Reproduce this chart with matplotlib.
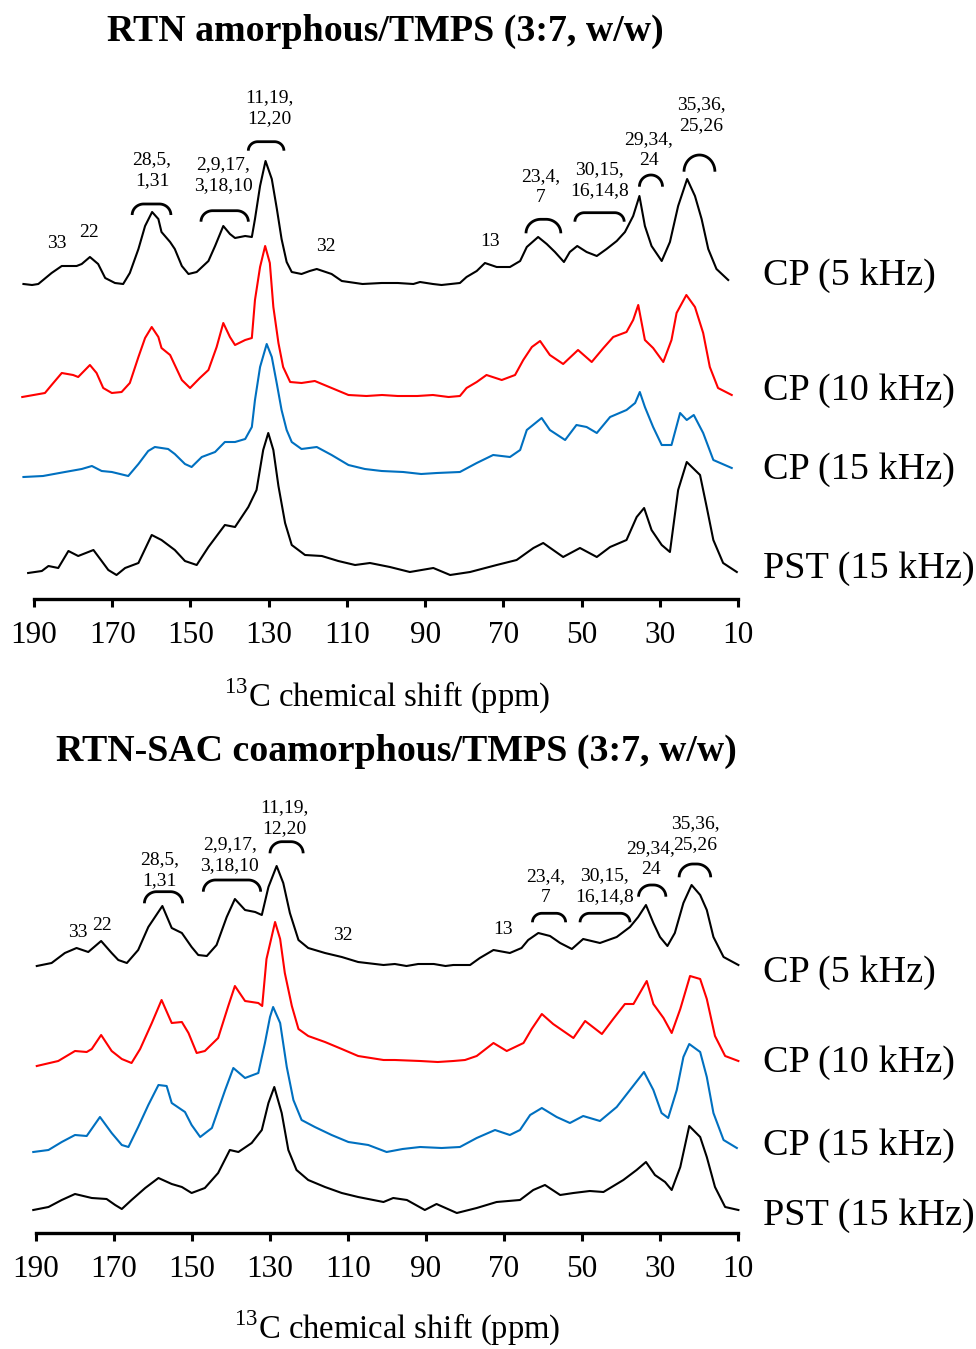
import matplotlib
matplotlib.use("Agg")
import matplotlib.pyplot as plt
import numpy as np

plt.rcParams['font.family'] = ['Liberation Serif', 'DejaVu Serif']
plt.rcParams['mathtext.fontset'] = 'custom'
plt.rcParams['mathtext.rm'] = 'Liberation Serif'

# ---------------- data ----------------
# intensities are heights above each trace's own baseline (arbitrary units)
ticks = [190, 170, 150, 130, 110, 90, 70, 50, 30, 10]
trace_labels = ["CP (5 kHz)", "CP (10 kHz)", "CP (15 kHz)", "PST (15 kHz)"]
titles = ["RTN amorphous/TMPS (3:7, w/w)", "RTN-SAC coamorphous/TMPS (3:7, w/w)"]

# ----- panel A : RTN amorphous -----
a_cp5_ppm = [192.7, 190.5, 188.9, 185.5, 182.9, 179.1, 177.8, 175.7, 173.6, 171.8, 169.3, 167.2, 165.5, 163.3, 161.6,
             159.8, 158.2, 157.4, 155.2, 154.0, 152.2, 150.5, 148.4, 145.4, 143.7, 141.6, 139.9, 138.6, 136.0,
             134.3, 133.5, 132.2, 130.8, 129.2, 127.9, 126.7, 125.4, 124.1, 121.6, 119.5, 117.7, 113.9, 111.3,
             106.0, 101.1, 97.0, 93.0, 91.3, 88.0, 85.8, 81.1, 79.4, 76.8, 74.7, 71.7, 68.3, 65.7, 64.0, 61.1,
             58.9, 56.8, 54.5, 53.0, 51.1, 48.7, 46.1, 43.6, 41.0, 38.9, 36.8, 35.2, 33.8, 32.1, 29.5, 27.4,
             25.3, 23.0, 21.0, 19.3, 17.6, 15.5, 12.5]
a_cp5_int = [0, -1, 0, 11, 18, 18, 20, 27, 20, 6, 1, 0, 11, 35, 58,
             72, 65, 52, 42, 35, 18, 10, 12, 23, 38, 58, 50, 46, 48,
             47, 65, 98, 123, 105, 75, 45, 22, 12, 10, 13, 15, 10, 3,
             0, 1, 1, 0, 2, 0, -1, 1, 7, 13, 21, 17, 17, 23, 37, 47,
             40, 32, 22, 32, 38, 32, 28, 35, 43, 52, 68, 88, 58, 38, 23, 42,
             78, 105, 88, 65, 35, 15, 4]

a_cp10_ppm = [193.0, 187.2, 185.5, 182.9, 180.0, 178.7, 175.7, 174.0, 172.3, 170.1, 167.6, 165.5, 163.3, 161.6,
              159.9, 158.2, 157.4, 155.2, 154.0, 152.2, 150.1, 147.6, 145.4, 143.3, 141.6, 139.9, 138.6, 136.0,
              134.3, 133.5, 132.2, 130.9, 129.7, 128.8, 127.5, 126.3, 124.5, 121.6, 118.2, 113.9, 109.6, 105.0,
              101.0, 97.0, 92.0, 88.0, 84.0, 81.1, 79.4, 76.8, 74.3, 70.4, 67.0, 64.9, 62.7, 60.6, 58.1, 54.7,
              50.9, 47.4, 44.4, 41.9, 38.5, 36.8, 35.5, 33.8, 31.7, 29.1, 27.0, 25.7, 23.2, 21.0, 18.9, 17.2,
              15.1, 11.6]
a_cp10_int = [0, 4, 12, 24, 22, 20, 32, 24, 9, 4, 5, 14, 40, 59,
              70, 60, 49, 42, 32, 17, 9, 19, 27, 50, 74, 60, 52, 57,
              59, 97, 130, 151, 134, 90, 54, 30, 15, 14, 16, 9, 2, 1,
              2, 1, 1, 2, 0, 1, 9, 15, 22, 17, 22, 37, 50, 56, 42, 33,
              47, 35, 49, 60, 65, 77, 92, 57, 49, 35, 57, 84, 102, 90, 64, 30,
              9, 2]

a_cp15_ppm = [192.7, 187.7, 182.1, 177.8, 175.2, 172.7, 170.1, 165.9, 163.3, 160.8, 159.1, 155.7, 154.0, 151.4,
              149.7, 147.1, 143.7, 141.2, 138.6, 136.0, 134.3, 133.5, 132.2, 130.5, 129.2, 127.9, 126.7, 125.4,
              124.1, 121.6, 117.7, 113.9, 109.6, 105.4, 101.1, 95.6, 91.0, 87.0, 81.1, 76.8, 72.6, 68.3, 65.7,
              64.0, 60.2, 58.1, 54.2, 51.3, 48.7, 46.1, 42.7, 38.5, 36.3, 35.1, 33.8, 31.7, 29.5, 27.0, 24.8,
              23.1, 21.3, 18.9, 16.3, 11.6]
a_cp15_int = [0, 1, 5, 8, 11, 6, 5, 1, 13, 26, 30, 28, 23, 13,
              10, 20, 25, 35, 35, 38, 50, 77, 110, 133, 120, 93, 67, 47,
              35, 28, 30, 22, 12, 8, 6, 5, 3, 4, 5, 14, 22, 20, 27,
              47, 59, 47, 37, 52, 50, 44, 60, 67, 74, 85, 70, 50, 32, 32, 64,
              57, 62, 44, 17, 9]

a_pst_ppm = [191.5, 188.0, 186.3, 183.8, 181.2, 178.7, 174.8, 172.7, 171.0, 168.9, 166.7, 163.3, 159.9, 157.4,
             154.0, 151.4, 148.4, 145.4, 141.2, 138.6, 135.2, 133.1, 131.4, 130.1, 128.8, 127.5, 125.8, 124.1,
             120.7, 116.4, 112.2, 107.9, 104.1, 99.0, 93.9, 87.9, 83.6, 78.5, 71.7, 66.6, 62.3, 59.8, 54.7,
             50.4, 46.1, 42.7, 38.5, 35.9, 34.0, 32.1, 29.5, 27.4, 25.3, 23.1, 19.7, 18.0, 16.3, 13.8, 10.3]
a_pst_int = [0, 2, 7, 5, 22, 17, 23, 12, 3, -2, 5, 10, 38, 33,
             23, 12, 8, 26, 48, 46, 66, 83, 123, 140, 123, 87, 50, 28,
             18, 17, 12, 8, 10, 6, 1, 5, -2, 1, 8, 13, 25, 30, 16,
             25, 16, 26, 33, 56, 65, 43, 28, 21, 83, 111, 98, 66, 33, 10, 1]

# ----- panel B : RTN-SAC coamorphous -----
b_cp5_ppm = [189.8, 186.0, 182.6, 179.6, 176.6, 173.3, 170.6, 168.9, 166.7, 163.8, 161.2, 157.6, 155.2, 152.6,
             150.1, 148.4, 146.2, 143.7, 141.1, 139.0, 136.4, 133.8, 132.1, 130.4, 128.3, 126.6, 124.9, 122.7,
             120.2, 115.9, 111.6, 107.4, 100.9, 98.0, 95.0, 92.0, 88.0, 85.0, 83.0, 78.7, 76.2, 72.7, 68.5,
             65.5, 63.8, 61.2, 58.2, 55.6, 52.6, 49.7, 45.4, 41.1, 37.7, 35.6, 33.6, 31.7, 30.0, 28.1, 26.2,
             24.0, 21.9, 19.7, 18.0, 16.3, 13.7, 9.9]
b_cp5_int = [0, 3, 13, 18, 14, 25, 13, 6, 3, 16, 39, 60, 38, 33,
             19, 11, 10, 21, 49, 67, 56, 54, 51, 79, 100, 83, 53, 26,
             18, 13, 9, 4, 1, 2, 0, 2, 2, 0, 1, 1, 8, 16, 13,
             18, 26, 33, 30, 23, 17, 27, 23, 29, 39, 49, 61, 43, 29, 20, 33,
             63, 81, 71, 56, 29, 9, 1]

b_cp10_ppm = [189.8, 184.3, 180.0, 177.0, 175.7, 173.3, 170.6, 168.0, 165.5, 163.3, 160.3, 157.8, 155.2, 152.6,
              150.9, 148.8, 146.7, 143.3, 140.7, 139.0, 136.4, 133.0, 132.0, 130.9, 128.7, 127.4, 126.2, 124.4,
              122.7, 120.2, 115.9, 111.6, 107.4, 100.9, 98.0, 91.5, 87.0, 83.0, 80.0, 77.0, 72.7, 69.3, 65.0,
              62.9, 60.3, 57.4, 52.2, 49.2, 44.9, 42.0, 39.0, 36.8, 33.4, 31.7, 29.1, 27.0, 24.8, 22.3, 19.7,
              18.0, 15.9, 13.3, 9.9]
b_cp10_int = [0, 5, 15, 14, 17, 31, 15, 7, 3, 17, 43, 66, 43, 44,
              33, 13, 15, 28, 60, 80, 65, 63, 60, 107, 144, 127, 93, 60,
              37, 30, 24, 17, 10, 6, 6, 5, 4, 5, 6, 10, 23, 15, 23,
              37, 52, 42, 28, 45, 32, 47, 62, 62, 85, 62, 48, 33, 57, 90, 87,
              67, 30, 10, 5]

b_cp15_ppm = [190.7, 186.8, 183.4, 180.0, 177.0, 173.6, 170.6, 168.0, 166.3, 163.8, 161.2, 158.6, 156.5, 155.2,
              151.8, 150.1, 147.9, 144.9, 141.5, 139.4, 136.4, 133.0, 131.3, 130.0, 129.2, 127.4, 125.7, 124.0,
              121.9, 118.5, 114.2, 109.9, 104.8, 100.1, 96.0, 91.5, 86.0, 81.3, 77.0, 72.3, 68.5, 65.9, 63.3,
              60.3, 56.5, 53.1, 49.7, 45.4, 41.1, 37.7, 34.1, 31.7, 29.6, 27.9, 25.7, 24.0, 22.5, 19.7, 18.0,
              16.3, 13.7, 10.3]
b_cp15_int = [0, 2, 10, 17, 16, 35, 19, 7, 5, 25, 47, 67, 66, 49,
              40, 27, 15, 24, 62, 84, 74, 79, 109, 135, 145, 129, 85, 52,
              32, 25, 17, 10, 7, 0, 3, 5, 4, 5, 14, 22, 17, 22, 37,
              44, 35, 29, 36, 31, 45, 62, 80, 62, 39, 34, 62, 95, 108, 100, 75,
              39, 12, 4]

b_pst_ppm = [190.7, 186.8, 183.4, 180.0, 175.7, 171.9, 169.7, 168.0, 165.5, 162.0, 158.6, 155.2, 152.6, 150.1,
             146.7, 143.3, 140.3, 138.1, 134.7, 132.1, 130.4, 128.9, 127.0, 125.3, 123.2, 120.2, 115.9, 111.6,
             107.4, 100.9, 98.4, 94.9, 90.3, 87.3, 82.1, 77.0, 71.9, 65.9, 62.5, 59.5, 55.6, 52.2, 48.0, 44.5,
             39.4, 36.0, 33.6, 31.3, 28.7, 27.0, 24.8, 22.5, 19.7, 18.0, 15.9, 13.3, 9.9]
b_pst_int = [0, 3, 10, 16, 12, 11, 5, 1, 10, 22, 32, 26, 23, 17,
             22, 37, 60, 58, 67, 80, 107, 123, 97, 60, 40, 30, 23, 17,
             13, 8, 12, 10, 0, 6, -3, 2, 8, 10, 20, 25, 15, 17, 19, 18,
             30, 40, 48, 35, 28, 20, 43, 84, 73, 53, 23, 3, 0]

# peak assignments (single carbons)
a_single = [("33", 184.2, 355.7), ("22", 175.9, 366.3), ("32", 115.3, 352.3), ("13", 73.4, 357.3)]
b_single = [("33", 179.2, 300.3), ("22", 173.2, 308.0), ("32", 111.2, 298.0), ("13", 70.2, 303.0)]

# bracketed groups: label, label x (ppm), label y, bracket left ppm, right ppm, bracket top, bracket end
a_groups = [("28,5,\n1,31", 159.8, 429.0, 164.9, 155.0, 395.0, 384.0),
            ("2,9,17,\n3,18,10", 141.6, 424.0, 147.3, 135.2, 388.3, 377.3),
            ("11,19,\n12,20", 129.7, 490.7, 135.2, 126.1, 457.3, 448.3),
            ("23,4,\n7", 60.5, 412.0, 64.2, 55.3, 379.7, 365.7),
            ("30,15,\n16,14,8", 45.3, 418.7, 51.7, 39.1, 386.3, 377.3),
            ("29,34,\n24", 32.8, 448.7, 35.2, 29.3, 424.0, 412.3),
            ("35,36,\n25,26", 19.3, 484.0, 23.8, 15.9, 444.0, 427.3)]
b_groups = [("28,5,\n1,31", 158.4, 363.3, 162.2, 152.4, 341.3, 329.7),
            ("2,9,17,\n3,18,10", 140.3, 377.5, 147.1, 132.4, 353.0, 341.3),
            ("11,19,\n12,20", 126.4, 414.7, 130.0, 121.5, 391.3, 379.7),
            ("23,4,\n7", 59.4, 346.0, 62.7, 54.2, 319.7, 310.7),
            ("30,15,\n16,14,8", 44.3, 346.7, 50.5, 37.7, 319.7, 310.7),
            ("29,34,\n24", 32.4, 374.2, 35.5, 28.5, 348.0, 336.3),
            ("35,36,\n25,26", 20.9, 398.8, 25.1, 17.0, 369.0, 355.7)]

# ---------------- layout ----------------
W, H = 976, 1349
fig = plt.figure(figsize=(W / 100, H / 100), dpi=100)
colors = ["black", "#FF0000", "#0070C0", "black"]


def fx(px):
    return px / W


def fy(py):
    return 1 - py / H


def make_panel(x190, k, y_axis, y_top, traces, offsets, singles, groups,
               label_ys, title, title_xy, xlabel_xy):
    left = x190 - 4 * k
    right = x190 + 181 * k
    ax = fig.add_axes([fx(left), fy(y_axis), (right - left) / W, (y_axis - y_top) / H])
    ax.set_xlim(194, 9)
    ax.set_ylim(0, y_axis - y_top)
    for (pp, ii), off, c in zip(traces, offsets, colors):
        ax.plot(pp, np.asarray(ii) + off, color=c, lw=1.5, clip_on=False)
    for s in ["top", "left", "right"]:
        ax.spines[s].set_visible(False)
    ax.spines["bottom"].set_bounds(10, 190)
    ax.spines["bottom"].set_linewidth(2.4)
    ax.set_yticks([])
    ax.set_xticks(ticks)
    ax.set_xticklabels([str(t) for t in ticks], fontsize=22.5)
    ax.tick_params(axis='x', direction='out', length=6, width=2.2, pad=10)
    ax.patch.set_visible(False)

    for lab, xp, yp in singles:
        ax.text(xp, yp, lab, ha='center', va='center', fontsize=14)
    for lab, lx, ly, bl, br, btop, bend in groups:
        ax.text(lx, ly, lab, ha='center', va='center', fontsize=14,
                multialignment='center', linespacing=1.3)
        w = (bl - br) * k
        d = btop - bend
        rx = min(d * 1.05, w / 2)
        th1 = np.linspace(np.pi, np.pi / 2, 30)
        th2 = np.linspace(np.pi / 2, 0, 30)
        u = np.concatenate([rx + rx * np.cos(th1), w - rx + rx * np.cos(th2)])
        v = np.concatenate([bend + d * np.sin(th1), bend + d * np.sin(th2)])
        ax.plot(bl - u / k, v, color='black', lw=2.0, clip_on=False, solid_capstyle='butt')

    for lab, ly in zip(trace_labels, label_ys):
        fig.text(fx(763), fy(ly), lab, ha='left', va='center', fontsize=27.5)
    fig.text(fx(title_xy[0]), fy(title_xy[1]), title, ha='center', va='center',
             fontsize=27.3, fontweight='bold')
    fig.text(fx(xlabel_xy[0]), fy(xlabel_xy[1]), r"$^{13}$C chemical shift (ppm)",
             ha='center', va='center', fontsize=23.5)
    return ax


make_panel(34, 3.911, 599, 80,
           [(a_cp5_ppm, a_cp5_int), (a_cp10_ppm, a_cp10_int), (a_cp15_ppm, a_cp15_int), (a_pst_ppm, a_pst_int)],
           [315, 202, 122, 26], a_single, a_groups,
           [276, 391, 470, 569], titles[0], (385.5, 31), (387, 696))

make_panel(36, 3.9, 1233, 780,
           [(b_cp5_ppm, b_cp5_int), (b_cp10_ppm, b_cp10_int), (b_cp15_ppm, b_cp15_int), (b_pst_ppm, b_pst_int)],
           [267, 167, 81, 23], b_single, b_groups,
           [973, 1063, 1146, 1216], titles[1], (396, 751), (397, 1328))

fig.savefig("out.png", dpi=100)
